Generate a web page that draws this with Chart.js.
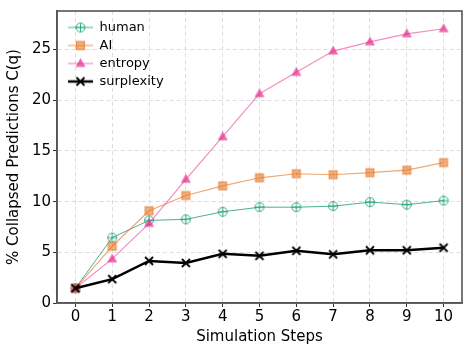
<!DOCTYPE html>
<html>
<head>
<meta charset="utf-8">
<script src="https://cdn.jsdelivr.net/npm/chart.js@4.4.1/dist/chart.umd.min.js"></script>
<style>
  html, body { margin: 0; padding: 0; background: #fff; }
  #wrap { width: 473px; height: 355px; }
</style>
</head>
<body>
<div id="wrap"><canvas id="chart" width="473" height="355"></canvas></div>
<script>
const steps = [0, 1, 2, 3, 4, 5, 6, 7, 8, 9, 10];
const yTicks = [0, 5, 10, 15, 20, 25];

const human = [1.45, 6.45, 8.15, 8.25, 9.0, 9.45, 9.45, 9.55, 9.95, 9.7, 10.1];
const ai = [1.45, 5.6, 9.1, 10.6, 11.55, 12.35, 12.75, 12.65, 12.85, 13.1, 13.85];
const entropy = [1.45, 4.35, 7.85, 12.2, 16.4, 20.65, 22.75, 24.85, 25.75, 26.55, 27.05];
const surplexity = [1.45, 2.35, 4.15, 3.95, 4.85, 4.65, 5.15, 4.8, 5.2, 5.2, 5.45];

const FONT = "'DejaVu Sans', sans-serif";

// marker drawing, used for the points and for the legend swatches
function drawMarker(ctx, kind, cx, cy) {
  ctx.save();
  if (kind === 'human') {
    ctx.strokeStyle = 'rgba(27,158,119,0.85)';
    ctx.lineWidth = 1;
    ctx.beginPath();
    ctx.arc(cx, cy, 4.5, 0, Math.PI * 2);
    ctx.moveTo(cx - 4.5, cy); ctx.lineTo(cx + 4.5, cy);
    ctx.moveTo(cx, cy - 4.5); ctx.lineTo(cx, cy + 4.5);
    ctx.stroke();
  } else if (kind === 'ai') {
    ctx.fillStyle = 'rgba(230,120,40,0.6)';
    ctx.strokeStyle = 'rgba(230,120,40,0.75)';
    ctx.fillRect(cx - 4, cy - 4, 8, 8);
    ctx.strokeRect(cx - 4, cy - 4, 8, 8);
  } else if (kind === 'entropy') {
    ctx.fillStyle = 'rgba(231,41,138,0.7)';
    ctx.beginPath();
    ctx.moveTo(cx, cy - 5.5);
    ctx.lineTo(cx + 5, cy + 3.5);
    ctx.lineTo(cx - 5, cy + 3.5);
    ctx.closePath();
    ctx.fill();
  } else {
    ctx.strokeStyle = '#000';
    ctx.lineWidth = 1.8;
    ctx.beginPath();
    ctx.moveTo(cx - 4, cy - 4); ctx.lineTo(cx + 4, cy + 4);
    ctx.moveTo(cx + 4, cy - 4); ctx.lineTo(cx - 4, cy + 4);
    ctx.stroke();
  }
  ctx.restore();
}

function markerCanvas(kind) {
  const c = document.createElement('canvas');
  c.width = 14; c.height = 14;
  drawMarker(c.getContext('2d'), kind, 7, 7);
  return c;
}

function legendCanvas(kind, color, width) {
  const c = document.createElement('canvas');
  c.width = 25; c.height = 14;
  const ctx = c.getContext('2d');
  ctx.strokeStyle = color;
  ctx.lineWidth = width;
  ctx.beginPath();
  ctx.moveTo(0, 7); ctx.lineTo(25, 7);
  ctx.stroke();
  drawMarker(ctx, kind, 12.5, 7);
  return c;
}

const series = [
  { label: 'human', kind: 'human', values: human, color: 'rgba(27,158,119,0.8)', width: 1, order: 4 },
  { label: 'AI', kind: 'ai', values: ai, color: 'rgba(230,120,40,0.65)', width: 1.2, order: 3 },
  { label: 'entropy', kind: 'entropy', values: entropy, color: 'rgba(235,80,160,0.65)', width: 1.2, order: 2 },
  { label: 'surplexity', kind: 'surplexity', values: surplexity, color: '#000', width: 2.5, order: 1 }
];

const datasets = series.map(s => ({
  label: s.label,
  data: s.values.map((v, i) => ({ x: steps[i], y: v })),
  borderColor: s.color,
  backgroundColor: s.color,
  borderWidth: s.width,
  pointStyle: markerCanvas(s.kind),
  legendStyle: legendCanvas(s.kind, s.color, s.width),
  pointRadius: 5,
  tension: 0,
  order: s.order
}));

const frame = {
  id: 'frame',
  afterLayout(chart) {
    // nudge the in-plot legend away from the corner
    const lg = chart.legend;
    lg.top += 16; lg.bottom += 16;
    lg.left += 6; lg.right += 6;
  },
  afterDraw(chart) {
    const { ctx, chartArea: a } = chart;
    ctx.save();
    ctx.strokeStyle = '#555';
    ctx.lineWidth = 1.6;
    ctx.strokeRect(a.left, a.top, a.right - a.left, a.bottom - a.top);
    ctx.restore();
  }
};

const gridOpts = { color: '#dddddd', tickColor: '#333', tickLength: 4, tickBorderDash: [] };
const borderOpts = { display: true, color: '#555', width: 1.6, dash: [4, 3] };

new Chart(document.getElementById('chart').getContext('2d'), {
  type: 'line',
  data: { datasets },
  plugins: [frame],
  options: {
    responsive: false,
    animation: false,
    layout: { padding: { top: 11, right: 11, left: 0, bottom: 0 } },
    plugins: {
      tooltip: { enabled: false },
      legend: {
        position: 'chartArea',
        align: 'start',
        labels: {
          usePointStyle: true,
          pointStyleWidth: 25,
          padding: 5,
          color: '#000',
          font: { family: FONT, size: 13 },
          sort: (a, b) => a.datasetIndex - b.datasetIndex,
          generateLabels(chart) {
            return chart.data.datasets.map((d, i) => ({
              text: d.label,
              pointStyle: d.legendStyle,
              fillStyle: d.borderColor,
              strokeStyle: d.borderColor,
              lineWidth: 0,
              datasetIndex: i,
              hidden: false
            }));
          }
        }
      }
    },
    scales: {
      x: {
        type: 'linear',
        min: -0.5,
        max: 10.5,
        afterBuildTicks: sc => { sc.ticks = steps.map(v => ({ value: v })); },
        afterFit: sc => { sc.height = 52; },
        grid: gridOpts,
        border: borderOpts,
        ticks: { color: '#000', font: { family: FONT, size: 15 }, padding: 1, maxRotation: 0 },
        title: { display: true, text: 'Simulation Steps', color: '#000', font: { family: FONT, size: 15 }, padding: { top: 0, bottom: 9 } }
      },
      y: {
        min: 0,
        max: 28.8,
        afterBuildTicks: sc => { sc.ticks = yTicks.map(v => ({ value: v })); },
        afterFit: sc => { sc.width = 57; },
        grid: gridOpts,
        border: borderOpts,
        ticks: { color: '#000', font: { family: FONT, size: 15 }, padding: 2 },
        title: { display: true, text: '% Collapsed Predictions C(q)', color: '#000', font: { family: FONT, size: 15 }, padding: { top: 5, bottom: 2 } }
      }
    }
  }
});
</script>
</body>
</html>
